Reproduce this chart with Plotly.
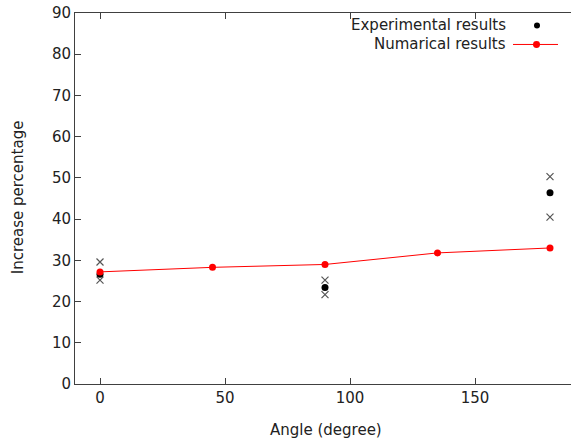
import plotly.graph_objects as go

# Numerical results
num_angle = [0, 45, 90, 135, 180]
num_value = [27.2, 28.3, 29.0, 31.8, 33.0]

# Experimental mean results
exp_angle = [0, 90, 180]
exp_value = [26.6, 23.4, 46.4]

# Experimental min/max (crosses)
cross_angle = [0, 0, 90, 90, 180, 180]
cross_value = [29.6, 25.2, 25.2, 21.7, 50.3, 40.5]

x_ticks = [0, 50, 100, 150]
y_ticks = [0, 10, 20, 30, 40, 50, 60, 70, 80, 90]

FONT = "DejaVu Sans"
FS = 15
AX = "#404040"
W, H = 571, 444
L, T, B = 75, 12.5, 60
PW, PH = W - L, H - T - B


def px(xp):
    return (xp - L) / PW


def py(yp):
    return (H - B - yp) / PH


fig = go.Figure()
fig.add_trace(go.Scatter(x=cross_angle, y=cross_value, mode="markers",
                         marker=dict(symbol="x-thin", size=7, line=dict(width=1.2, color="#555555")),
                         showlegend=False))
fig.add_trace(go.Scatter(x=exp_angle, y=exp_value, mode="markers",
                         marker=dict(symbol="circle", size=7, color="black"),
                         showlegend=False))
fig.add_trace(go.Scatter(x=num_angle, y=num_value, mode="lines+markers",
                         line=dict(color="#ff0000", width=1),
                         marker=dict(symbol="circle", size=7, color="#ff0000"),
                         showlegend=False))

# legend drawn gnuplot-style (text left of sample)
fig.add_annotation(xref="paper", yref="paper", x=px(508), y=py(25),
                   text="Experimental results", showarrow=False, xanchor="right", yanchor="middle",
                   font=dict(family=FONT, size=FS, color="#222222"))
fig.add_annotation(xref="paper", yref="paper", x=px(508), y=py(44),
                   text="Numarical results", showarrow=False, xanchor="right", yanchor="middle",
                   font=dict(family=FONT, size=FS, color="#222222"))
fig.add_shape(type="circle", xref="paper", yref="paper",
              x0=px(534), x1=px(540), y0=py(28), y1=py(22),
              fillcolor="black", line=dict(width=0))
fig.add_shape(type="line", xref="paper", yref="paper",
              x0=px(513), x1=px(558), y0=py(44), y1=py(44),
              line=dict(color="#ff0000", width=1))
fig.add_shape(type="circle", xref="paper", yref="paper",
              x0=px(533), x1=px(540), y0=py(47.5), y1=py(40.5),
              fillcolor="#ff0000", line=dict(width=0))

# axis titles
fig.add_annotation(xref="paper", yref="paper", x=px(326), y=py(430),
                   text="Angle (degree)", showarrow=False, xanchor="center", yanchor="middle",
                   font=dict(family=FONT, size=FS, color="#222222"))
fig.add_annotation(xref="paper", yref="paper", x=px(18), y=py(197),
                   text="Increase percentage", showarrow=False, xanchor="center", yanchor="middle",
                   textangle=-90, font=dict(family=FONT, size=FS, color="#222222"))

fig.update_layout(
    width=W, height=H,
    margin=dict(l=L, r=0, t=T, b=B, autoexpand=False),
    paper_bgcolor="white", plot_bgcolor="white",
    font=dict(family=FONT, size=FS, color="#222222"),
    showlegend=False,
)
fig.update_xaxes(range=[-10, 188.4], tickvals=x_ticks, ticks="inside", ticklen=6,
                 tickcolor=AX, showline=True, linecolor=AX, linewidth=1, mirror="ticks",
                 showgrid=False, zeroline=False, automargin=False, ticklabeloverflow="allow")
fig.update_yaxes(range=[0, 90], tickvals=y_ticks, ticks="inside", ticklen=6,
                 tickcolor=AX, showline=True, linecolor=AX, linewidth=1, mirror=False,
                 showgrid=False, zeroline=False, automargin=False, ticklabeloverflow="allow")

fig.write_html("out.html", config={"displayModeBar": False},
               post_script="document.body.style.margin='0px';")
